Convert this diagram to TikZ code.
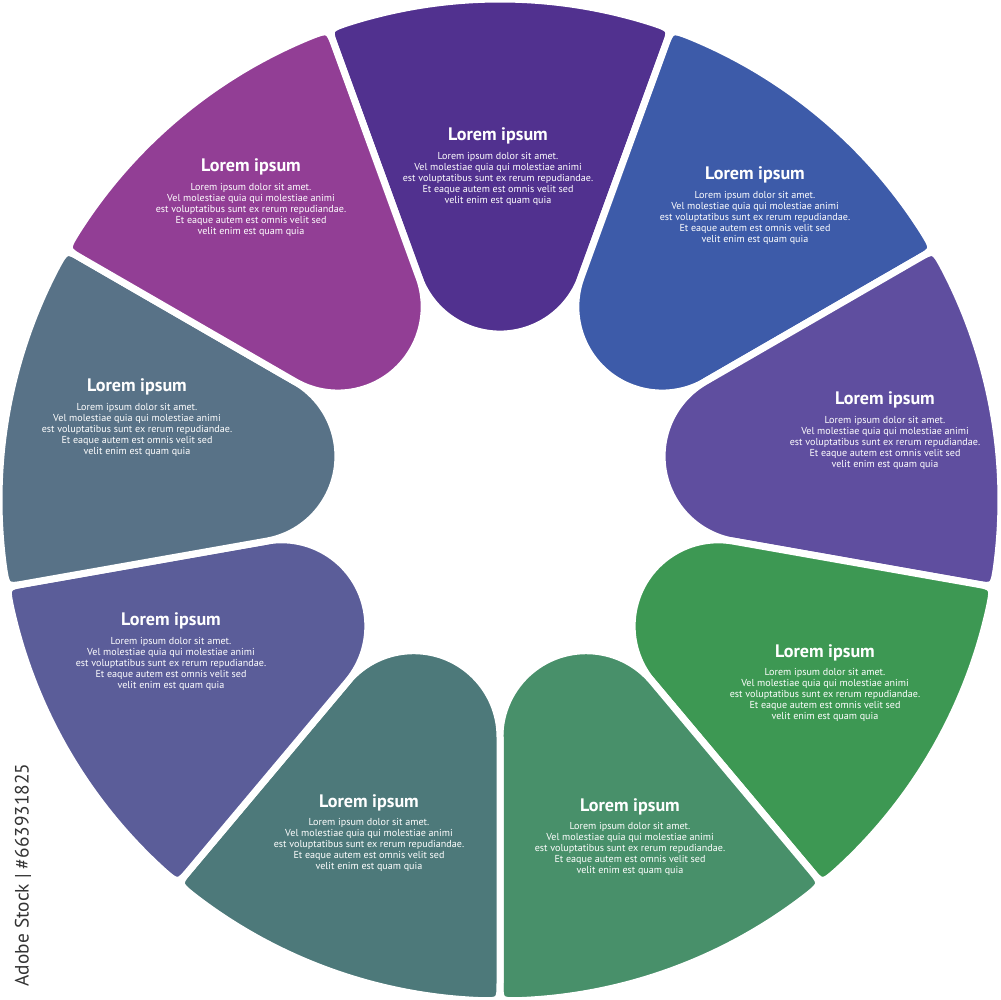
\documentclass[tikz,border=0pt]{standalone}
\usepackage{fontspec}
\setmainfont{PT Sans}
\usetikzlibrary{positioning}
\definecolor{segpurple}{HTML}{51318F}
\definecolor{segblue}{HTML}{3D5BA9}
\definecolor{segviolet}{HTML}{5F4E9F}
\definecolor{seggreen}{HTML}{3D9853}
\definecolor{segjade}{HTML}{48906A}
\definecolor{segteal}{HTML}{4D797A}
\definecolor{segindigo}{HTML}{5B5D99}
\definecolor{segslate}{HTML}{587287}
\definecolor{segmagenta}{HTML}{923E95}
\tikzset{
  seg/.style={draw=white, line width=0.14cm, line join=round},
  ttl/.style={font=\fontsize{10.3}{12}\selectfont\bfseries, text=white, inner sep=0pt, anchor=base},
  txt/.style={font=\fontsize{5.75}{6.3}\selectfont, text=white, align=center, inner sep=0pt},
  stamp/.style={font=\fontsize{11}{13}\selectfont, text=black!80, rotate=90},
}
\newcommand{\bodytext}{Lorem ipsum dolor sit amet.\\Vel molestiae quia qui molestiae animi\\est voluptatibus sunt ex rerum repudiandae.\\Et eaque autem est omnis velit sed\\velit enim est quam quia}

\begin{document}
\begin{tikzpicture}[x=0.02cm, y=0.02cm]
  \useasboundingbox (-500,-500) rectangle (500,500);
  % ring of nine tabs
  \foreach \c/\col in {90/segpurple, 50/segblue, 10/segviolet, -30/seggreen, -70/segjade,
                       -110/segteal, -150/segindigo, 170/segslate, 130/segmagenta}
    \path[seg, fill=\col] (\c-20:237) -- (\c-20:482) .. controls (\c-20:501) .. (\c-17.83:501)
      arc[start angle=\c-17.83, end angle=\c+17.83, radius=501]
      .. controls (\c+20:501) .. (\c+20:482) -- (\c+20:237)
      arc[start angle=\c+110, end angle=\c+250, radius=86.3] -- cycle;
  % labels
  \foreach \n/\px/\py in {1/498/141, 2/755/180, 3/885/405, 4/825/657, 5/630/811,
                          6/369/807, 7/171/626, 8/137/392, 9/251/172} {
    \node[ttl] (ttl\n) at (\px-500, 500-\py) {Lorem ipsum};
    \node[txt, below=4pt of ttl\n] (txt\n) {\bodytext};
  }
  \node[stamp] (stamp) at (-477,-375) {Adobe Stock | \#663931825};
\end{tikzpicture}
\end{document}
